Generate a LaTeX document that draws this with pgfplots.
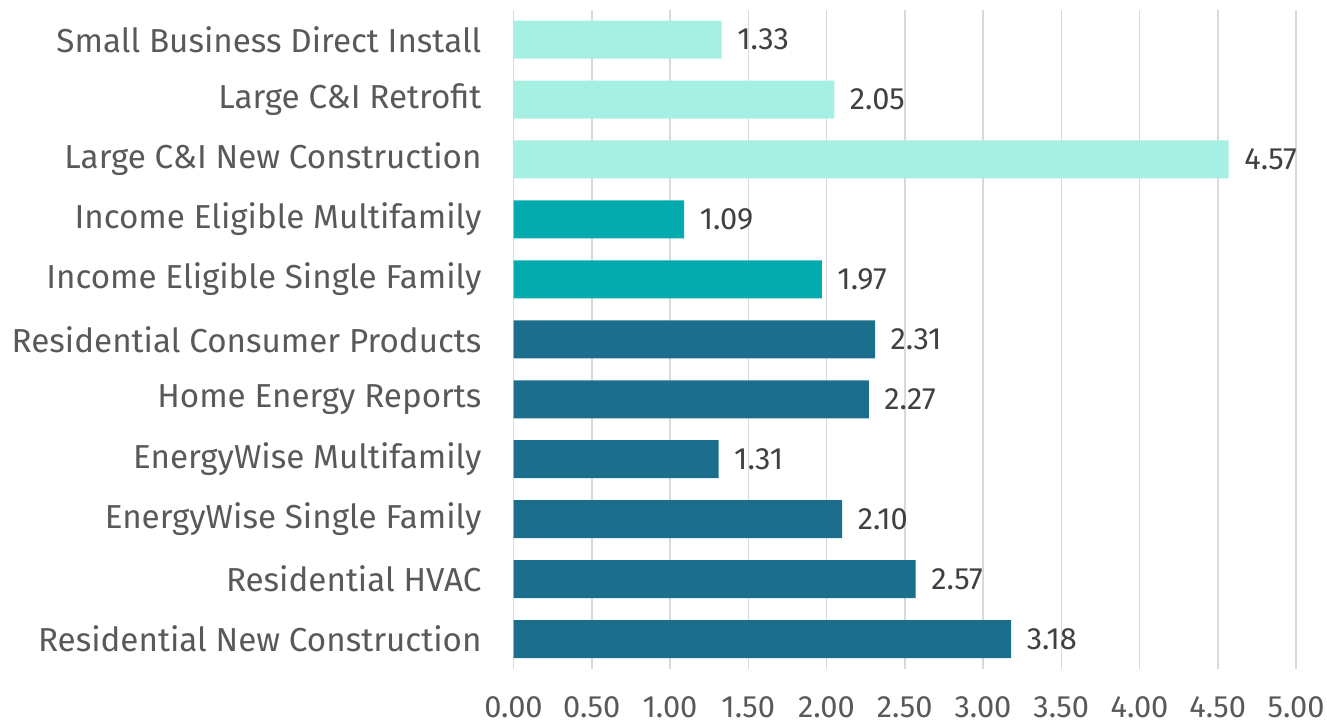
\documentclass[border=0pt]{standalone}
\usepackage{pgfplots}
\pgfplotsset{compat=1.18}
\usepackage{fontspec}
\setmainfont{Fira Sans}
\definecolor{cLight}{RGB}{166,240,227}
\definecolor{cTeal}{RGB}{3,170,174}
\definecolor{cDark}{RGB}{27,110,140}
\definecolor{gridc}{RGB}{217,217,217}
\definecolor{labc}{RGB}{89,89,89}
\definecolor{valc}{RGB}{64,64,64}
\begin{document}
\begin{tikzpicture}
\begin{axis}[
  name=ax,
  scale only axis,
  width=391.25pt, height=329.7pt,
  xmin=0, xmax=5, ymin=-0.5, ymax=10.5,
  xtick={0,0.5,...,5},
  ytick={0,...,10},
  yticklabels={Residential New Construction,Residential HVAC,EnergyWise Single Family,EnergyWise Multifamily,Home Energy Reports,Residential Consumer Products,Income Eligible Single Family,Income Eligible Multifamily,Large C\&I New Construction,Large C\&I Retrofit,Small Business Direct Install},
  xticklabel style={font=\fontsize{15.4pt}{18pt}\selectfont, text=labc, yshift=-10.5pt,
    /pgf/number format/fixed, /pgf/number format/fixed zerofill, /pgf/number format/precision=2, /pgf/number format/assume math mode=true},
  yticklabel style={font=\fontsize{16.6pt}{19pt}\selectfont, text=labc, xshift=-12.5pt},
  major tick length=0pt,
  axis line style={draw=none},
  xmajorgrids, ymajorgrids=false,
  major grid style={gridc, line width=0.75pt},
  xbar, bar width=19pt, bar shift=0pt,
  nodes near coords,
  nodes near coords style={font=\fontsize{15.4pt}{18pt}\selectfont, text=valc, xshift=4.3pt,
    /pgf/number format/fixed, /pgf/number format/fixed zerofill, /pgf/number format/precision=2, /pgf/number format/assume math mode=true},
  clip=false,
]
\addplot[draw=none, fill=cDark] coordinates {(3.18,0) (2.57,1) (2.10,2) (1.31,3) (2.27,4) (2.31,5)};
\addplot[draw=none, fill=cTeal] coordinates {(1.97,6) (1.09,7)};
\addplot[draw=none, fill=cLight] coordinates {(4.57,8) (2.05,9) (1.33,10)};
\end{axis}
\pgfresetboundingbox
\path[use as bounding box] ([shift={(-256.75pt,-27.5pt)}]ax.south west) rectangle ([shift={(15.5pt,4.8pt)}]ax.north east);
\end{tikzpicture}
\end{document}
